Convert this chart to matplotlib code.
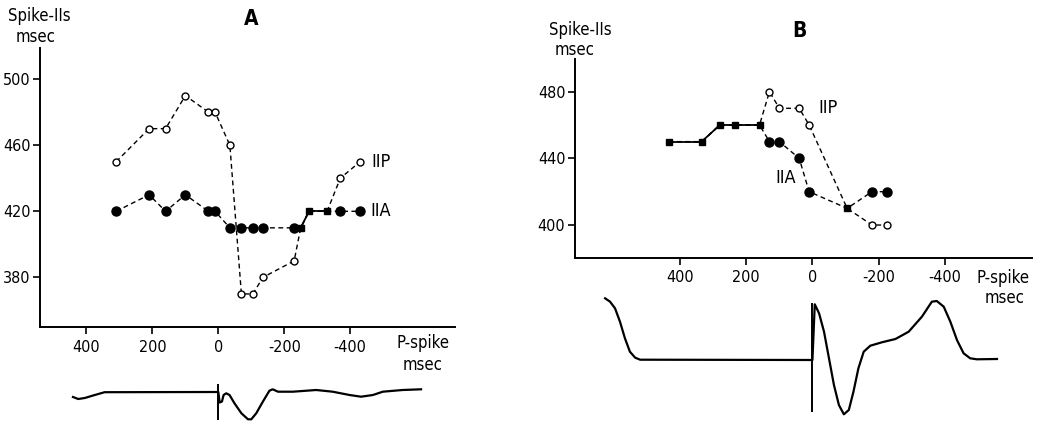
import numpy as np
import matplotlib
matplotlib.use("Agg")
import matplotlib.pyplot as plt

plt.rcParams['font.family'] = ['DejaVu Sans']
plt.rcParams['font.stretch'] = 'condensed'

# === DATA ===
# Panel A: Spike-IIs interval (msec) vs P-spike timing (msec)
A_x = [310, 210, 160, 100, 30, 10, -35, -70, -105, -135, -230, -250, -275, -330, -370, -430]
A_iip = [450, 470, 470, 490, 480, 480, 460, 370, 370, 380, 390, 410, 420, 420, 440, 450]
A_iia = [420, 430, 420, 430, 420, 420, 410, 410, 410, 410, 410, 410, 420, 420, 420, 420]

# Panel B
B_x = [435, 335, 280, 235, 160, 130, 100, 40, 10, -105, -180, -225]
B_iip = [450, 450, 460, 460, 460, 480, 470, 470, 460, 410, 400, 400]
B_iia = [450, 450, 460, 460, 460, 450, 450, 440, 420, 410, 420, 420]

# Waveform traces under each panel (msec, arbitrary amplitude)
A_trace_t = [441, 425, 405, 380, 345, 0, -4, -11, -16, -24, -34, -49, -70, -90, -100,
             -115, -135, -155, -165, -181, -226, -297, -347, -398, -433, -469, -499, -559, -615]
A_trace_v = [-4.5, -6.5, -5.5, -3, 0.3, 0.5, -10, -9, -2.5, -0.8, -2.5, -10.8, -20.8, -26.8, -26.8,
             -20.8, -9.2, 1.8, 3.2, 0.8, 0.8, 2.5, 0.8, -2.5, -4.2, -2.5, 0.8, 2.5, 3.2]
A_mark = (9, -27.5)

B_trace_t = [627, 612, 597, 582, 567, 552, 536, 521, 0, -7, -20, -35, -50, -65, -80, -95,
             -110, -124, -139, -155, -175, -210, -251, -291, -331, -361, -376, -397, -417,
             -437, -457, -477, -497, -558]
B_trace_v = [61.7, 58.3, 51.7, 38.3, 21.7, 8.3, 2.3, 0.3, 0, 55.7, 46.7, 28.3, 1.7, -25, -45, -54.3,
             -50, -31.7, -8.3, 8.3, 14.3, 17.7, 21, 28.3, 43.3, 58.3, 59, 53.3, 38.3,
             20, 6.7, 1.7, 0.7, 1]
B_mark = (56.7, -51.7)

x_ticks = [400, 200, 0, -200, -400]

# === LAYOUT (pixel boxes) ===
W, H = 1045, 421


def rect(l, t, r, b):
    return [l / W, 1 - b / H, (r - l) / W, (b - t) / H]


fig = plt.figure(figsize=(W / 100, H / 100), dpi=100)

DASH = (0, (3.5, 2.5))


def draw_panel(ax, x, iip, iia, ylim, xlim, yticks):
    x = np.array(x)
    iip = np.array(iip)
    iia = np.array(iia)
    shared = iip == iia

    ax.plot(x, iip, color='black', lw=1.0, linestyle=DASH, zorder=2)
    ax.plot(x, iia, color='black', lw=1.0, linestyle=DASH, zorder=2)
    # solid line between consecutive shared points
    for i in range(len(x) - 1):
        if shared[i] and shared[i + 1]:
            ax.plot(x[i:i + 2], iip[i:i + 2], color='black', lw=1.3, zorder=3)
    ax.plot(x[~shared], iip[~shared], 'o', ms=5, mfc='white', mec='black', mew=1.0, zorder=4)
    ax.plot(x[~shared], iia[~shared], 'o', ms=6.5, mfc='black', mec='black', zorder=4)
    ax.plot(x[shared], iip[shared], 's', ms=4.5, mfc='black', mec='black', zorder=5)

    ax.set_xlim(*xlim)
    ax.set_ylim(*ylim)
    ax.set_xticks(x_ticks)
    ax.set_xticklabels([str(t) for t in x_ticks])
    ax.set_yticks(yticks)
    for s in ['top', 'right']:
        ax.spines[s].set_visible(False)
    for s in ['left', 'bottom']:
        ax.spines[s].set_linewidth(1.4)
    ax.tick_params(direction='out', length=5, width=1.2, labelsize=11.5, pad=2)
    ax.tick_params(axis='x', pad=4)


def draw_trace(ax, t, v, mark, xlim, ylim):
    ax.plot(t, v, color='black', lw=1.6, solid_joinstyle='round')
    ax.vlines(0, mark[1], mark[0], color='black', lw=1.4)
    ax.set_xlim(*xlim)
    ax.set_ylim(*ylim)
    ax.axis('off')


# Panel A
axA = fig.add_axes(rect(40, 48, 455, 327))
draw_panel(axA, A_x, A_iip, A_iia, (350, 518.8), (541, -718), [380, 420, 460, 500])
axA.text(-463, 450, 'IIP', fontsize=13, va='center', ha='left')
axA.text(-460, 420, 'IIA', fontsize=13, va='center', ha='left')

trA = fig.add_axes(rect(40, 375, 455, 421))
draw_trace(trA, A_trace_t, A_trace_v, A_mark, (541, -718), (-28.5, 17.5))

# Panel B
axB = fig.add_axes(rect(575, 59.3, 1031.7, 257.7))
draw_panel(axB, B_x, B_iip, B_iia, (380.4, 499.4), (718, -663), [400, 440, 480])
axB.text(-17, 470, 'IIP', fontsize=13, va='center', ha='left')
axB.text(112, 428, 'IIA', fontsize=13, va='center', ha='left')

trB = fig.add_axes(rect(575, 290, 1031.7, 421))
draw_trace(trB, B_trace_t, B_trace_v, B_mark, (718, -663), (-61, 70))

# Labels and titles (figure pixel positions)
def ftext(x, y, s, **kw):
    fig.text(x / W, 1 - y / H, s, ha='center', va='center', **kw)


ftext(251, 19, 'A', fontsize=15, fontweight='bold')
ftext(799, 31, 'B', fontsize=15, fontweight='bold')
ftext(39, 16, 'Spike-IIs', fontsize=12)
ftext(36, 37, 'msec', fontsize=12)
ftext(580, 30, 'Spike-IIs', fontsize=12)
ftext(575, 50, 'msec', fontsize=12)
ftext(423, 343, 'P-spike', fontsize=12)
ftext(423, 365, 'msec', fontsize=12)
ftext(1003, 278, 'P-spike', fontsize=12)
ftext(1005, 298, 'msec', fontsize=12)

fig.savefig('out.png', dpi=100)
